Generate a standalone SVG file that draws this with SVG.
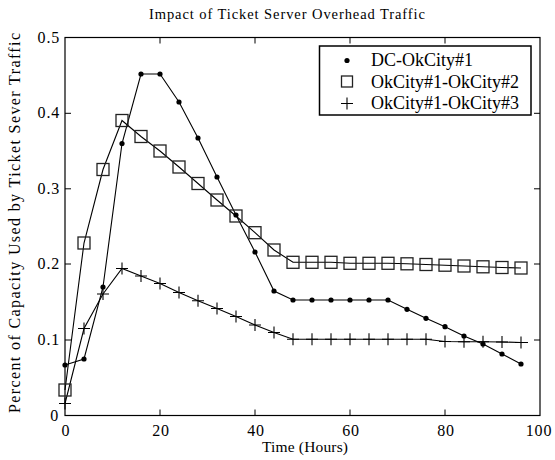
<svg xmlns="http://www.w3.org/2000/svg" width="555" height="460" viewBox="0 0 555 460" font-family="'Liberation Serif', 'Times New Roman', serif">
  <style>
    text { font-family: "Liberation Serif", "Times New Roman", serif; fill: #000; }
    .tick { font-size: 16px; letter-spacing: 0.8px; }
    .leg { font-size: 18px; }
    .axis { fill: none; stroke: #000; stroke-width: 1.2; }
    .tk { stroke: #000; stroke-width: 1; }
    .line { fill: none; stroke: #000; stroke-width: 1.1; }
    .sq { fill: none; stroke: #222; stroke-width: 1.3; }
    .pl { stroke: #000; stroke-width: 1.1; }
  </style>
  <defs>
    <circle id="dot" r="2.6" fill="#000"/>
    <rect id="sq" x="-6" y="-6" width="12" height="12" class="sq"/>
    <path id="plus" d="M-6 0H6M0 -6V6" class="pl"/>
  </defs>
  <rect width="555" height="460" fill="#fff"/>

  <!-- titles -->
  <text x="287" y="19" font-size="14.5" text-anchor="middle" textLength="276" lengthAdjust="spacing">Impact of Ticket Server Overhead Traffic</text>
  <text x="305" y="452" font-size="15.5" text-anchor="middle" textLength="86" lengthAdjust="spacing">Time (Hours)</text>
  <text transform="translate(20 223) rotate(-90)" font-size="16" text-anchor="middle" textLength="380" lengthAdjust="spacing">Percent of Capacity Used by Ticket Sever Traffic</text>

  <!-- axes frame and ticks -->
  <g id="axes">
    <rect x="65" y="37.5" width="475" height="378" class="axis"/>
    <g class="tk">
      <path d="M160 415.5v-6M255 415.5v-6M350 415.5v-6M445 415.5v-6"/>
      <path d="M160 37.5v6M255 37.5v6M350 37.5v6M445 37.5v6"/>
      <path d="M65 340h6M65 264h6M65 188.8h6M65 113.3h6"/>
      <path d="M540 340h-6M540 264h-6M540 188.8h-6M540 113.3h-6"/>
    </g>
    <g class="tick" text-anchor="end">
      <text x="59" y="421">0</text>
      <text x="60" y="345">0.1</text>
      <text x="60" y="269">0.2</text>
      <text x="60" y="194">0.3</text>
      <text x="60" y="118">0.4</text>
      <text x="60" y="43">0.5</text>
    </g>
    <g class="tick" text-anchor="middle">
      <text x="66" y="436">0</text>
      <text x="161" y="436">20</text>
      <text x="256" y="436">40</text>
      <text x="351" y="436">60</text>
      <text x="446" y="436">80</text>
      <text x="539" y="436">100</text>
    </g>
  </g>

  <!-- data lines -->
  <g id="connectors">
    <polyline class="line" points="65,365 84,359 103,287 122,143.5 141,74 160,74 179,102 198,138 217,177 236,215 255,252 274,291 293,300 312,300 331,300 350,300 369,300 388,300 407,309.3 426,318.3 445,326.7 464,336 483,344 502,354 521,364"/>
    <polyline class="line" points="65,390 84,243 103,169.5 122,120.5 141,136.5 160,151 179,167 198,183.5 217,200 236,216 255,232.7 274,250 293,262.3 312,262.3 331,262.3 350,263.3 369,263.3 388,263.3 407,263.8 426,264.5 445,265.2 464,266 483,266.8 502,267.5 521,268"/>
    <polyline class="line" points="65,403.5 84,328.5 103,294 122,268.5 141,276 160,283.5 179,292.5 198,300.8 217,308.5 236,316.5 255,325 274,332.5 293,339.3 312,339.3 331,339.3 350,339.3 369,339.3 388,339.3 407,339.3 426,339.3 445,341.5 464,341.7 483,341.7 502,342 521,342.5 528,342.5"/>
  </g>

  <!-- markers: DC-OkCity#1 -->
  <g id="series-dc-okcity1">
    <use href="#dot" x="65" y="365"/><use href="#dot" x="84" y="359"/><use href="#dot" x="103" y="287"/>
    <use href="#dot" x="122" y="143.5"/><use href="#dot" x="141" y="74"/><use href="#dot" x="160" y="74"/>
    <use href="#dot" x="179" y="102"/><use href="#dot" x="198" y="138"/><use href="#dot" x="217" y="177"/>
    <use href="#dot" x="236" y="215"/><use href="#dot" x="255" y="252"/><use href="#dot" x="274" y="291"/>
    <use href="#dot" x="293" y="300"/><use href="#dot" x="312" y="300"/><use href="#dot" x="331" y="300"/>
    <use href="#dot" x="350" y="300"/><use href="#dot" x="369" y="300"/><use href="#dot" x="388" y="300"/>
    <use href="#dot" x="407" y="309.3"/><use href="#dot" x="426" y="318.3"/><use href="#dot" x="445" y="326.7"/>
    <use href="#dot" x="464" y="336"/><use href="#dot" x="483" y="344"/><use href="#dot" x="502" y="354"/>
    <use href="#dot" x="521" y="364"/>
  </g>

  <!-- markers: OkCity#1-OkCity#2 -->
  <g id="series-okcity1-okcity2">
    <use href="#sq" x="65" y="390"/><use href="#sq" x="84" y="243"/><use href="#sq" x="103" y="169.5"/>
    <use href="#sq" x="122" y="120.5"/><use href="#sq" x="141" y="136.5"/><use href="#sq" x="160" y="151"/>
    <use href="#sq" x="179" y="167"/><use href="#sq" x="198" y="183.5"/><use href="#sq" x="217" y="200"/>
    <use href="#sq" x="236" y="216"/><use href="#sq" x="255" y="232.7"/><use href="#sq" x="274" y="250"/>
    <use href="#sq" x="293" y="262.3"/><use href="#sq" x="312" y="262.3"/><use href="#sq" x="331" y="262.3"/>
    <use href="#sq" x="350" y="263.3"/><use href="#sq" x="369" y="263.3"/><use href="#sq" x="388" y="263.3"/>
    <use href="#sq" x="407" y="263.8"/><use href="#sq" x="426" y="264.5"/><use href="#sq" x="445" y="265.2"/>
    <use href="#sq" x="464" y="266"/><use href="#sq" x="483" y="266.8"/><use href="#sq" x="502" y="267.5"/>
    <use href="#sq" x="521" y="268"/>
  </g>

  <!-- markers: OkCity#1-OkCity#3 -->
  <g id="series-okcity1-okcity3">
    <use href="#plus" x="65" y="403.5"/><use href="#plus" x="84" y="328.5"/><use href="#plus" x="103" y="294"/>
    <use href="#plus" x="122" y="268.5"/><use href="#plus" x="141" y="276"/><use href="#plus" x="160" y="283.5"/>
    <use href="#plus" x="179" y="292.5"/><use href="#plus" x="198" y="300.8"/><use href="#plus" x="217" y="308.5"/>
    <use href="#plus" x="236" y="316.5"/><use href="#plus" x="255" y="325"/><use href="#plus" x="274" y="332.5"/>
    <use href="#plus" x="293" y="339.3"/><use href="#plus" x="312" y="339.3"/><use href="#plus" x="331" y="339.3"/>
    <use href="#plus" x="350" y="339.3"/><use href="#plus" x="369" y="339.3"/><use href="#plus" x="388" y="339.3"/>
    <use href="#plus" x="407" y="339.3"/><use href="#plus" x="426" y="339.3"/><use href="#plus" x="445" y="341.5"/>
    <use href="#plus" x="464" y="341.7"/><use href="#plus" x="483" y="341.7"/><use href="#plus" x="502" y="342"/>
    <use href="#plus" x="521" y="342.5"/>
  </g>

  <!-- legend -->
  <g id="legend">
    <rect x="319.5" y="46" width="211.5" height="69" fill="#fff" stroke="#000" stroke-width="1.5"/>
    <use href="#dot" x="347" y="60.5"/>
    <rect x="341.5" y="76" width="11" height="11" class="sq"/>
    <path d="M341 103.5h12M347 97.5v12" class="pl"/>
    <g class="leg">
      <text x="371" y="66">DC-OkCity#1</text>
      <text x="371" y="87.5">OkCity#1-OkCity#2</text>
      <text x="371" y="109">OkCity#1-OkCity#3</text>
    </g>
  </g>
</svg>
